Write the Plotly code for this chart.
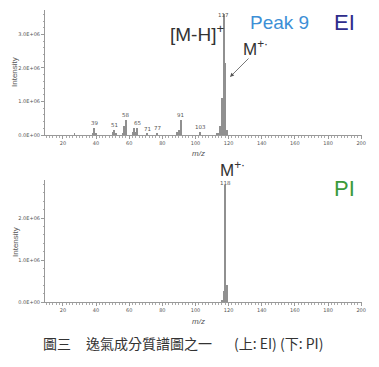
import plotly.graph_objects as go

# ---- data ----
ei_mz = [27, 38, 39, 40, 50, 51, 52, 56, 57, 58, 62, 63, 64, 65, 71, 77, 89, 90, 91, 103, 113, 114, 115, 116, 117, 118, 119]
ei_int = [0.03e6, 0.06e6, 0.2e6, 0.05e6, 0.08e6, 0.15e6, 0.05e6, 0.04e6, 0.27e6, 0.45e6, 0.1e6, 0.2e6, 0.1e6, 0.22e6,
          0.03e6, 0.05e6, 0.1e6, 0.15e6, 0.45e6, 0.08e6, 0.03e6, 0.06e6, 0.26e6, 1.1e6, 3.62e6, 2.15e6, 0.16e6]
ei_labels = [39, 51, 58, 65, 71, 77, 91, 103, 117]

pi_mz = [116, 117, 118, 119]
pi_int = [0.04e6, 0.26e6, 2.78e6, 0.4e6]
pi_labels = [118]

x_ticks = [20, 40, 60, 80, 100, 120, 140, 160, 180, 200]
ei_yticks = [0, 1e6, 2e6, 3e6]
ei_yticktext = ["0.0E+00", "1.0E+06", "2.0E+06", "3.0E+06"]
pi_yticks = [0, 1e6, 2e6]
pi_yticktext = ["0.0E+00", "1.0E+06", "2.0E+06"]

# page offset (default body margin of the html page)
OFF = 8
W, H = 379, 367
L, R, T, B = 45, 17, 10, 65          # absolute screen coordinates of the plot area
PW, PH = W - L - R, H - T - B

def px(x):
    return (x - L) / PW

def py(y):
    return (H - B - y) / PH

fig = go.Figure()
bar_col = "#909090"
fig.add_trace(go.Bar(x=ei_mz, y=ei_int, width=0.6, marker=dict(color=bar_col, line=dict(width=0)),
                     xaxis="x", yaxis="y", showlegend=False))
fig.add_trace(go.Bar(x=pi_mz, y=pi_int, width=0.6, marker=dict(color=bar_col, line=dict(width=0)),
                     xaxis="x2", yaxis="y2", showlegend=False))

tickfont = dict(family="DejaVu Sans", size=5, color="#555")
axis_common = dict(
    showline=True, linecolor="#999", linewidth=1, showgrid=False, zeroline=False,
    ticks="outside", ticklen=3, tickcolor="#999", tickfont=tickfont,
)
xcommon = dict(axis_common, range=[9.2, 200.5], tickvals=x_ticks,
               minor=dict(dtick=2, tick0=0, ticks="outside", ticklen=1.5, tickcolor="#aaa"))

top_dom = [py(135), py(10)]
bot_dom = [0, py(180)]

annotations = []
for m, v in zip(ei_mz, ei_int):
    if m in ei_labels:
        annotations.append(dict(x=m, y=v, xref="x", yref="y", text=str(m), showarrow=False,
                                yshift=(-1 if m == 117 else 5),
                                font=dict(family="DejaVu Sans", size=5.5, color="#555")))
for m, v in zip(pi_mz, pi_int):
    if m in pi_labels:
        annotations.append(dict(x=m, y=v, xref="x2", yref="y2", text=str(m), showarrow=False,
                                yshift=2, font=dict(family="DejaVu Sans", size=5.5, color="#555")))

def ann(x, y, text, size, color, anchor="left", family="Liberation Sans", **kw):
    d = dict(x=px(x), y=py(y), xref="paper", yref="paper", text=text, showarrow=False,
             xanchor=anchor, yanchor="middle", font=dict(family=family, size=size, color=color))
    d.update(kw)
    annotations.append(d)

ann(168, 33, "[M-H]<sup>+</sup>", 19, "#333")
ann(248, 22, "Peak 9", 19, "#3d8fd6")
ann(332, 22, "EI", 22, "#2e2c8c")
ann(241, 48, "M<sup>+·</sup>", 17, "#333")
ann(218, 169, "M<sup>+·</sup>", 17, "#333")
ann(332, 188, "PI", 22, "#3b9a3b")
# axis titles
ann(15, 72, "Intensity", 8, "#555", anchor="center", textangle=-90)
ann(15, 242, "Intensity", 8, "#555", anchor="center", textangle=-90)
ann(198, 153, "<i>m/z</i>", 8, "#555", anchor="center")
ann(198, 321, "<i>m/z</i>", 8, "#555", anchor="center")
# caption
cap_font = "Noto Sans CJK TC"
ann(41, 343, "圖三", 14, "#333", family=cap_font)
ann(84, 343, "逸氣成分質譜圖之一", 14, "#333", family=cap_font)
ann(232, 343, "(上: EI) (下: PI)", 14, "#333", family=cap_font)
# arrow
annotations.append(dict(x=px(230), y=py(77), xref="paper", yref="paper",
                        ax=20, ay=-20, axref="pixel", ayref="pixel",
                        text="", showarrow=True, arrowhead=2, arrowsize=1, arrowwidth=0.8, arrowcolor="#555"))

fig.update_layout(
    width=W - OFF, height=H - OFF, margin=dict(l=L - OFF, r=R, t=T - OFF, b=B, pad=0),
    paper_bgcolor="white", plot_bgcolor="white",
    xaxis=dict(xcommon, anchor="y", domain=[0, 1]),
    yaxis=dict(axis_common, domain=top_dom, range=[0, 3.73e6], tickvals=ei_yticks, ticktext=ei_yticktext,
               anchor="x", minor=dict(dtick=0.2e6, ticks="outside", ticklen=1.5, tickcolor="#aaa")),
    xaxis2=dict(xcommon, anchor="y2", domain=[0, 1]),
    yaxis2=dict(axis_common, domain=bot_dom, range=[0, 2.905e6], tickvals=pi_yticks, ticktext=pi_yticktext,
                anchor="x2", minor=dict(dtick=0.2e6, ticks="outside", ticklen=1.5, tickcolor="#aaa")),
    annotations=annotations,
    bargap=0,
)

fig.write_html("out.html")
